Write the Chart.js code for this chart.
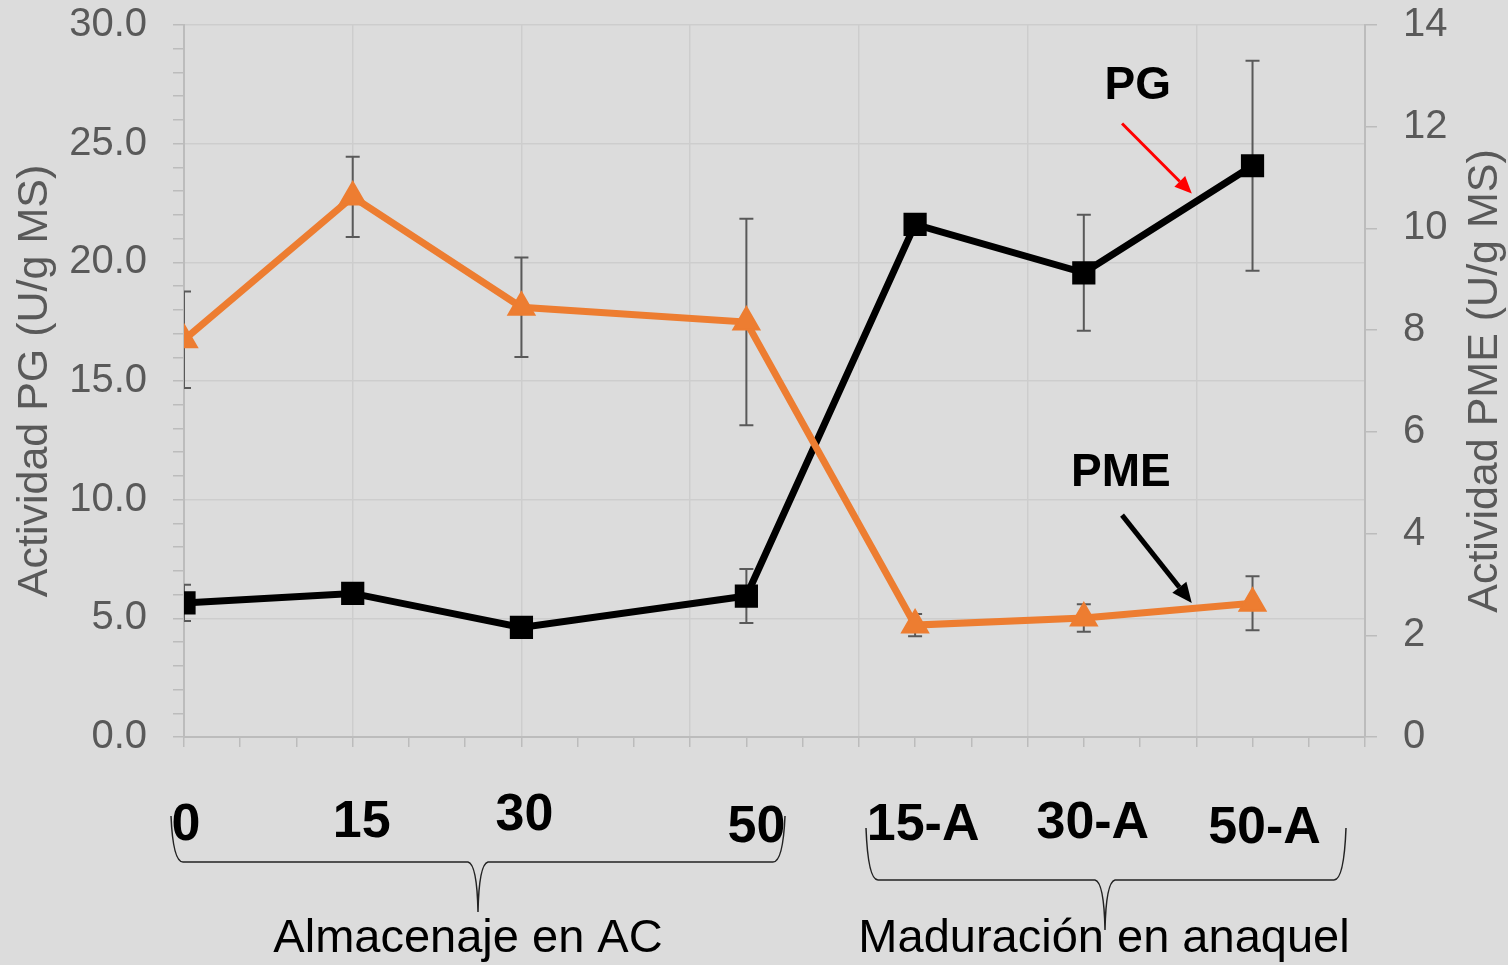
<!DOCTYPE html>
<html>
<head>
<meta charset="utf-8">
<script src="https://cdn.jsdelivr.net/npm/chart.js@4/dist/chart.umd.min.js"></script>
<style>
  html, body { margin: 0; padding: 0; background: #dcdcdc; }
  #wrap { width: 1508px; height: 965px; }
</style>
</head>
<body>
<div id="wrap"><canvas id="chart" width="1508" height="965"></canvas></div>
<script>
// days of storage / shelf ripening, placed on a numeric axis
const xDays = [0, 15, 30, 50, 65, 80, 95]
const dayLabels = ['0', '15', '30', '50', '15-A', '30-A', '50-A']
const groupNames = ['Almacenaje en AC', 'Maduración en anaquel']

// PG activity (left axis) and its error
const pgValues = [5.65, 6.05, 4.62, 5.94, 21.6, 19.56, 24.07]
const pgErr = [0.76, 0.3, 0.3, 1.14, 0.3, 2.44, 4.42]

// PME activity (right axis) and its error
const pmeValues = [7.81, 10.62, 8.45, 8.16, 2.2, 2.34, 2.63]
const pmeErr = [0.95, 0.79, 0.98, 2.03, 0.22, 0.27, 0.53]

const FONT = "'Liberation Sans', Arial, sans-serif"
const GREY = '#595959'
const AXIS = '#bcbcbc'
const GRID = '#cdcdcd'

const toPoints = (vals) => vals.map((v, i) => ({ x: xDays[i], y: v }))

function drawArrow(ctx, x1, y1, x2, y2, color, width, head) {
  const ang = Math.atan2(y2 - y1, x2 - x1)
  const bx = x2 - Math.cos(ang) * head
  const by = y2 - Math.sin(ang) * head
  ctx.strokeStyle = color
  ctx.fillStyle = color
  ctx.lineWidth = width
  ctx.beginPath()
  ctx.moveTo(x1, y1)
  ctx.lineTo(bx, by)
  ctx.stroke()
  ctx.beginPath()
  ctx.moveTo(x2, y2)
  ctx.lineTo(bx + Math.cos(ang + Math.PI / 2) * head * 0.45, by + Math.sin(ang + Math.PI / 2) * head * 0.45)
  ctx.lineTo(bx + Math.cos(ang - Math.PI / 2) * head * 0.45, by + Math.sin(ang - Math.PI / 2) * head * 0.45)
  ctx.closePath()
  ctx.fill()
}

function drawBrace(ctx, x1, x2, yTop, yMid, xMid, yTip) {
  ctx.beginPath()
  ctx.moveTo(x1, yTop)
  ctx.quadraticCurveTo(x1 + 2, yMid, x1 + 12, yMid)
  ctx.lineTo(xMid - 10, yMid)
  ctx.quadraticCurveTo(xMid - 1, yMid + 2, xMid, yTip)
  ctx.moveTo(xMid, yTip)
  ctx.quadraticCurveTo(xMid + 1, yMid + 2, xMid + 10, yMid)
  ctx.lineTo(x2 - 12, yMid)
  ctx.quadraticCurveTo(x2 - 2, yMid, x2, yTop)
  ctx.stroke()
}

const errorBars = {
  id: 'errorBars',
  beforeDatasetsDraw(chart) {
    const { ctx, chartArea, scales } = chart
    ctx.save()
    ctx.beginPath()
    ctx.rect(chartArea.left, chartArea.top, chartArea.right - chartArea.left, chartArea.bottom - chartArea.top)
    ctx.clip()
    ctx.strokeStyle = GREY
    ctx.lineWidth = 2
    chart.data.datasets.forEach(ds => {
      const ys = scales[ds.yAxisID]
      ds.data.forEach((p, i) => {
        const x = scales.x.getPixelForValue(p.x)
        const top = ys.getPixelForValue(p.y + ds.err[i])
        const bot = ys.getPixelForValue(p.y - ds.err[i])
        ctx.beginPath()
        ctx.moveTo(x, top); ctx.lineTo(x, bot)
        ctx.moveTo(x - 7, top); ctx.lineTo(x + 7, top)
        ctx.moveTo(x - 7, bot); ctx.lineTo(x + 7, bot)
        ctx.stroke()
      })
    })
    ctx.restore()
  }
}

const annotations = {
  id: 'annotations',
  afterDraw(chart) {
    const { ctx, scales } = chart
    const xs = scales.x, yl = scales.yPG
    ctx.save()

    // right axis title, read bottom to top
    ctx.fillStyle = GREY
    ctx.font = '43px ' + FONT
    ctx.textAlign = 'center'
    ctx.textBaseline = 'middle'
    ctx.translate(1485, (chart.chartArea.top + chart.chartArea.bottom) / 2)
    ctx.rotate(-Math.PI / 2)
    ctx.fillText('Actividad PME (U/g MS)', 0, 0)
    ctx.setTransform(1, 0, 0, 1, 0, 0)

    // series labels with arrows
    ctx.fillStyle = '#000'
    ctx.font = 'bold 46px ' + FONT
    ctx.fillText('PG', xs.getPixelForValue(84.8), yl.getPixelForValue(27.4))
    ctx.fillText('PME', xs.getPixelForValue(83.3), yl.getPixelForValue(11.1))
    drawArrow(ctx, xs.getPixelForValue(83.4), yl.getPixelForValue(25.85),
      xs.getPixelForValue(89.6), yl.getPixelForValue(22.9), '#ff0000', 3, 17)
    drawArrow(ctx, xs.getPixelForValue(83.4), yl.getPixelForValue(9.35),
      xs.getPixelForValue(89.6), yl.getPixelForValue(5.65), '#000', 5, 20)

    // day labels under the axis
    const nudge = [2, 9, 3, 10, 8, 9, 12]
    const base = [840, 837, 830, 842, 840, 838, 843]
    ctx.font = 'bold 52px ' + FONT
    ctx.textBaseline = 'alphabetic'
    dayLabels.forEach((lab, i) => {
      ctx.fillText(lab, xs.getPixelForValue(xDays[i]) + nudge[i], base[i])
    })

    // braces and group names
    ctx.strokeStyle = '#222'
    ctx.lineWidth = 1.5
    drawBrace(ctx, 171, 785, 816, 862, 478, 912)
    drawBrace(ctx, 866, 1346, 828, 880, 1105, 930)
    ctx.font = '47px ' + FONT
    ctx.fillText(groupNames[0], 468, 952)
    ctx.fillText(groupNames[1], 1104, 952)
    ctx.restore()
  }
}

Chart.defaults.font.family = FONT

const fixY = (w) => (s) => { s.width = w; s.paddingTop = 0; s.paddingBottom = 0 }

new Chart(document.getElementById('chart').getContext('2d'), {
  type: 'line',
  data: {
    datasets: [
      {
        label: 'PME',
        data: toPoints(pmeValues),
        err: pmeErr,
        yAxisID: 'yPME',
        borderColor: '#ed7d31',
        backgroundColor: '#ed7d31',
        borderWidth: 7,
        pointStyle: 'triangle',
        pointRadius: 15,
        pointBorderWidth: 2,
        pointBorderColor: '#ed7d31',
        pointBackgroundColor: '#ed7d31',
        tension: 0
      },
      {
        label: 'PG',
        data: toPoints(pgValues),
        err: pgErr,
        yAxisID: 'yPG',
        borderColor: '#000',
        backgroundColor: '#000',
        borderWidth: 7,
        pointStyle: 'rect',
        pointRadius: 15,
        pointBorderWidth: 2,
        pointBorderColor: '#000',
        pointBackgroundColor: '#000',
        tension: 0
      }
    ]
  },
  options: {
    responsive: false,
    devicePixelRatio: 1,
    animation: false,
    layout: { padding: { top: 25, left: 0, right: 0, bottom: 0 } },
    plugins: { legend: { display: false }, tooltip: { enabled: false } },
    scales: {
      x: {
        type: 'linear',
        min: 0,
        max: 105,
        afterFit: s => { s.height = 228; s.paddingLeft = 0; s.paddingRight = 0 },
        ticks: { stepSize: 5, autoSkip: false, callback: () => '' },
        grid: {
          color: c => c.tick && c.tick.value % 15 === 0 ? GRID : 'transparent',
          tickColor: AXIS,
          tickLength: 10,
          lineWidth: 1.5
        },
        border: { color: AXIS, width: 2 }
      },
      yPG: {
        position: 'left',
        min: 0,
        max: 30,
        afterFit: fixY(184),
        ticks: {
          stepSize: 1,
          autoSkip: false,
          color: GREY,
          font: { size: 40 },
          padding: 26,
          callback: v => v % 5 === 0 ? v.toFixed(1) : ''
        },
        grid: {
          color: c => c.tick && c.tick.value % 5 === 0 ? GRID : 'transparent',
          tickColor: AXIS,
          tickLength: 11,
          lineWidth: 1.5
        },
        border: { color: AXIS, width: 2 },
        title: {
          display: true,
          text: 'Actividad PG (U/g MS)',
          color: GREY,
          font: { size: 43 },
          padding: { top: 9, bottom: 0 }
        }
      },
      yPME: {
        position: 'right',
        min: 0,
        max: 14,
        afterFit: fixY(143),
        ticks: { stepSize: 2, color: GREY, font: { size: 40 }, padding: 26 },
        grid: { drawOnChartArea: false, tickColor: AXIS, tickLength: 12, lineWidth: 1.5 },
        border: { color: AXIS, width: 2 }
      }
    }
  },
  plugins: [errorBars, annotations]
})
</script>
</body>
</html>
